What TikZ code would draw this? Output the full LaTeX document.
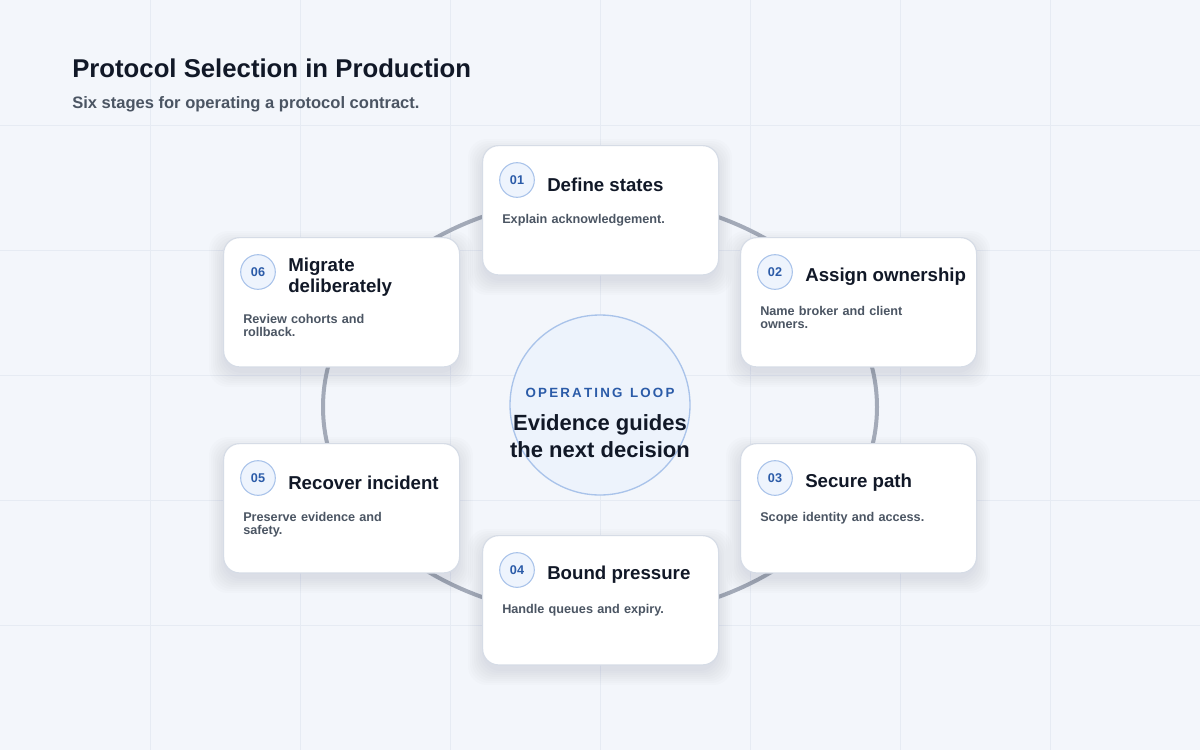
\documentclass[tikz,border=0pt]{standalone}
\usepackage{fontspec}
\setmainfont{Liberation Sans}
\definecolor{bg}{HTML}{F3F6FB}
\definecolor{gridc}{HTML}{E6EBF3}
\definecolor{ink}{HTML}{111827}
\definecolor{sub}{HTML}{4B5563}
\definecolor{ring}{HTML}{A3AAB8}
\definecolor{cardb}{HTML}{D6DCE6}
\definecolor{numf}{HTML}{EEF4FD}
\definecolor{hubf}{HTML}{EDF3FC}
\definecolor{numb}{HTML}{A9C3EA}
\definecolor{numt}{HTML}{2B5BA8}
\definecolor{shd}{HTML}{1E2A44}
\begin{document}
\hyphenpenalty=10000
\begin{tikzpicture}[x=0.75pt,y=-0.75pt,
 card/.style={draw=cardb,line width=0.9pt,fill=white,rounded corners=12pt,minimum width=177pt,minimum height=97pt,anchor=north west},
 num/.style={circle,draw=numb,fill=numf,line width=0.8pt,minimum size=26pt,inner sep=0pt,font=\bfseries\fontsize{9.5}{10}\selectfont,text=numt},
 ttl/.style={anchor=west,font=\bfseries\fontsize{14}{15.5}\selectfont,text=ink,align=left,inner sep=0pt},
 dsc/.style={anchor=north west,font=\bfseries\fontsize{9.5}{9.5}\selectfont,text=sub,align=left,inner sep=0pt,text width=125pt}]
\fill[bg] (0,0) rectangle (1200,750);
\useasboundingbox (0,0) rectangle (1200,750);
\foreach \x in {150,300,...,1050} \draw[gridc,line width=0.6pt] (\x,0) -- (\x,750);
\foreach \y in {125,250,...,625} \draw[gridc,line width=0.6pt] (0,\y) -- (1200,\y);
\node[anchor=west,inner sep=0pt,font=\bfseries\fontsize{19.3}{22}\selectfont,text=ink] (title) at (72,68) {Protocol Selection in Production};
\node[anchor=west,inner sep=0pt,font=\bfseries\fontsize{12.4}{14}\selectfont,text=sub] (subt) at (72,104) {Six stages for operating a protocol contract.};
\draw[ring,line width=3pt] (600,407) ellipse [x radius=277, y radius=210];
\node[circle,draw=numb,fill=hubf,line width=1pt,minimum size=135pt] (hub) at (600,405) {};
\node[font=\bfseries\fontsize{10}{12}\selectfont,text=numt] (hubk) at (600,393) {O\,P\,E\,R\,A\,T\,I\,N\,G\ \ L\,O\,O\,P};
\node[font=\bfseries\fontsize{16.5}{20}\selectfont,text=ink,align=center] (hubt) at (600,436) {Evidence guides\\the next decision};
\foreach \n/\x/\y/\t/\d/\o in {01/482/145/Define states/Explain acknowledgement./69,
  02/740/237/Assign ownership/Name broker and client owners./69,
  03/740/443/Secure path/Scope identity and access./69,
  04/482/535/Bound pressure/Handle queues and expiry./69,
  05/223/443/Recover incident/Preserve evidence and safety./69,
  06/223/237/{Migrate\\deliberately}/Review cohorts and rollback./77}{
  \foreach \k in {1,...,8}{
    \fill[shd,opacity=0.012,rounded corners=14pt] (\x-\k*2+2,\y-\k*2+10) rectangle (\x+236+\k*2-2,\y+130+\k*2+4);
  }
  \node[card] (c\n) at (\x,\y) {};
  \node[num] (n\n) at (\x+35,\y+35) {\n};
  \node[ttl] (t\n) at (\x+65,\y+40) {\t};
  \node[dsc] (d\n) at (\x+20,\y+\o) {\d};
}
\end{tikzpicture}
\end{document}
